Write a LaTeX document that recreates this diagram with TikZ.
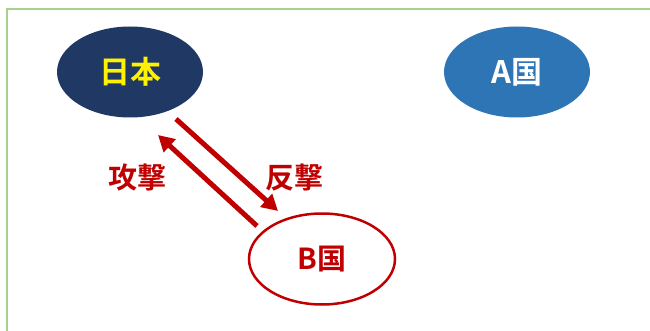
\documentclass[tikz,border=0pt]{standalone}
\usepackage{fontspec}
\newfontfamily\jp{Noto Sans CJK JP}[BoldFont={* Bold}]
\usetikzlibrary{shapes.geometric,arrows.meta}
\definecolor{navy}{HTML}{203864}
\definecolor{ablue}{HTML}{2E75B6}
\definecolor{dred}{HTML}{C00000}
\definecolor{frame}{HTML}{A9D18E}
\begin{document}
\begin{tikzpicture}[x=1pt,y=-1pt,
  country/.style={ellipse,minimum width=146pt,minimum height=91pt,inner sep=0pt,font=\jp\bfseries\fontsize{31}{34}\selectfont},
  redarrow/.style={draw=dred,line width=5pt,-{Triangle[length=16pt,width=17pt]}},
  lbl/.style={text=dred,font=\jp\bfseries\fontsize{29}{32}\selectfont}]
\useasboundingbox (0,0) rectangle (650,331);
\fill[white] (0,0) rectangle (650,331);
\draw[frame,line width=2pt] (7,340) -- (7,9) -- (660,9);
\node[country,fill=navy,text=yellow] (jp) at (130,72) {日本};
\node[country,fill=ablue,text=white] (a) at (517,72) {A国};
\node[country,draw=dred,line width=2.5pt,fill=white,text=dred,font=\jp\bfseries\fontsize{29}{32}\selectfont] (b) at (322,259) {B国};
\coordinate (t1) at (257,226);
\coordinate (h1) at (158,135);
\coordinate (t2) at (176,119);
\coordinate (h2) at (278,211);
\draw[redarrow] (t1) -- (h1);
\draw[redarrow] (t2) -- (h2);
\node[lbl] (l1) at (137,177) {攻撃};
\node[lbl] (l2) at (294,177) {反撃};
\end{tikzpicture}
\end{document}
